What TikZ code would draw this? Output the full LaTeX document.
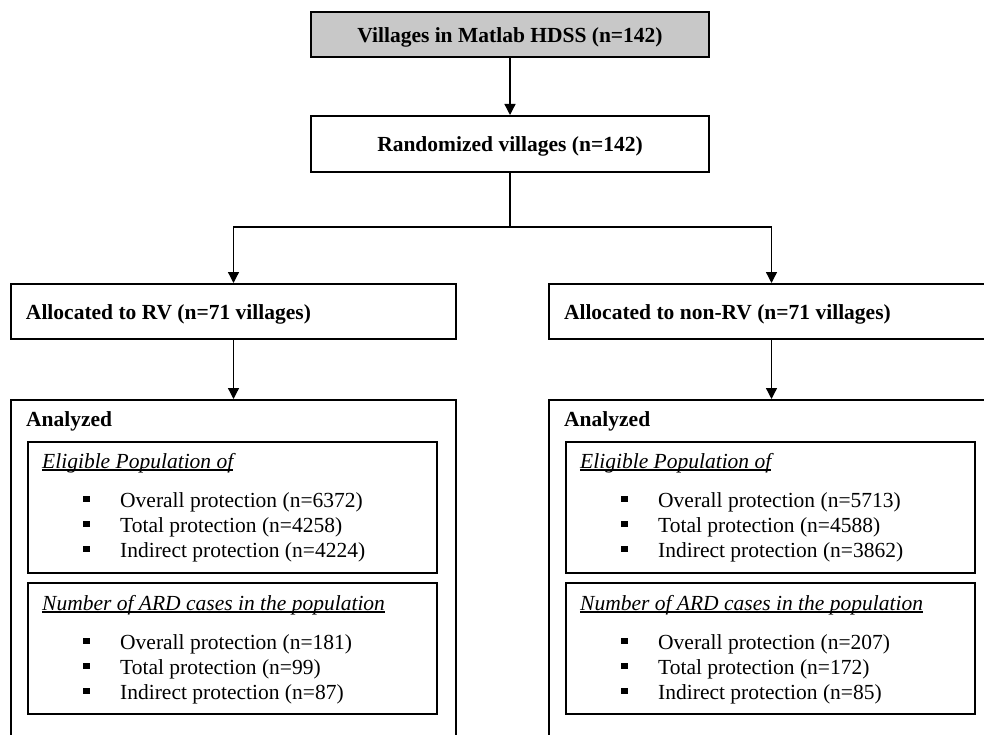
\documentclass[tikz,border=0pt]{standalone}
\usepackage{fontspec}
\setmainfont{Liberation Serif}
\usetikzlibrary{arrows.meta}
\definecolor{boxgray}{RGB}{200,200,200}
\newcommand\myul[1]{\leavevmode\setbox0\hbox{#1}\rlap{\rule[-2.5bp]{\wd0}{1.1bp}}\box0}
\newcommand\mycolumn[8]{%
  \node[bigbox, minimum width=445bp, minimum height=380bp, anchor=north] (#1an) at (#2+233.5,399) {};
  \node[txt, font=\basefont\bfseries] (#1antxt) at (#2+26,426) {Analyzed};
  \node[inbox] (#1el) at (#2+232.5,507.5) {};
  \node[inbox] (#1ard) at (#2+232.5,648.5) {};
  \node[txt] (#1h1) at (#2+42,468) {\myul{\itshape Eligible Population of}};
  \node[txt] (#1h2) at (#2+42,610) {\myul{\itshape Number of ARD cases in the population}};
  \node[bul] (#1b1) at (#2+86.5,499) {};
  \node[bul] (#1b2) at (#2+86.5,524) {};
  \node[bul] (#1b3) at (#2+86.5,549) {};
  \node[txt] (#1i1) at (#2+120,507) {Overall protection (n=#3)};
  \node[txt] (#1i2) at (#2+120,532) {Total protection (n=#4)};
  \node[txt] (#1i3) at (#2+120,557) {Indirect protection (n=#5)};
  \node[bul] (#1c1) at (#2+86.5,641) {};
  \node[bul] (#1c2) at (#2+86.5,666) {};
  \node[bul] (#1c3) at (#2+86.5,691) {};
  \node[txt] (#1j1) at (#2+120,649) {Overall protection (n=#6)};
  \node[txt] (#1j2) at (#2+120,674) {Total protection (n=#7)};
  \node[txt] (#1j3) at (#2+120,699) {Indirect protection (n=#8)};
}
\newcommand\basefont{\fontsize{21.5bp}{25bp}\selectfont}
\begin{document}
\begin{tikzpicture}[x=1bp,y=-1bp,
  font=\basefont,
  bigbox/.style={draw, line width=2bp, inner sep=0pt},
  titlebox/.style={draw, line width=2bp, font=\basefont\bfseries, text height=16bp, text depth=0bp, inner sep=0pt},
  allocbox/.style={draw, line width=2bp, font=\basefont\bfseries, text height=16bp, text depth=0bp,
     minimum width=445bp, minimum height=55bp, text width=415bp, align=flush left, inner xsep=15bp, inner ysep=0pt},
  inbox/.style={draw, line width=1.8bp, minimum width=409bp, minimum height=131bp, inner sep=0pt},
  txt/.style={inner sep=0pt, anchor=base west},
  bul/.style={fill=black, draw=none, minimum size=6.5bp, inner sep=0pt},
  conn/.style={line width=1.3bp},
  arr/.style={-{Triangle[length=11bp,width=11bp]}}]
\useasboundingbox (0,0) rectangle (984,735);
\clip (0,0) rectangle (984,735);
\fill[white] (0,0) rectangle (984,735);

\node[titlebox, fill=boxgray, minimum width=398bp, minimum height=45bp] (top) at (510,34.5) {Villages in Matlab HDSS (n=142)};
\node[titlebox, minimum width=398bp, minimum height=56bp] (rand) at (510,144) {Randomized villages (n=142)};
\coordinate (split) at (510,227);

\node[allocbox] (rv) at (233.5,311.5) {Allocated to RV (n=71 villages)};
\node[allocbox] (nrv) at (771.5,311.5) {Allocated to non-RV (n=71 villages)};

\mycolumn{L}{0}{6372}{4258}{4224}{181}{99}{87}
\mycolumn{R}{538}{5713}{4588}{3862}{207}{172}{85}

\draw[conn, arr] (top.south) -- (rand.north);
\draw[conn] (rand.south) -- (split);
\draw[conn, arr] (split) -| (rv.north);
\draw[conn, arr] (split) -| (nrv.north);
\draw[conn, arr] (rv.south) -- (Lan.north);
\draw[conn, arr] (nrv.south) -- (Ran.north);
\end{tikzpicture}
\end{document}
